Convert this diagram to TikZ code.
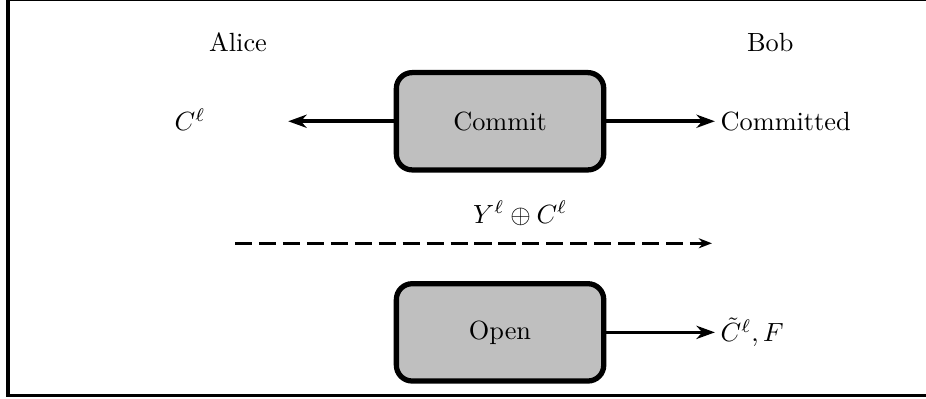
\documentclass[tikz,border=0pt]{standalone}
\usepackage{xcolor}
\usepackage{tikz}
\usetikzlibrary{arrows.meta, positioning, calc}

\begin{document}
\begin{tikzpicture}[
    phase/.style={draw, line width=2pt, fill=lightgray, minimum width=2.77cm, minimum height=1.3cm, rounded corners=6pt},
    relation/.style={-{Stealth[length=7pt, width=5pt, inset=2.2pt]}, line width=1.4pt},
    message/.style={-{Stealth[length=5pt, width=3.8pt, inset=1.6pt]}, line width=1pt, dash pattern=on 6.5pt off 2.6pt}
]
    \useasboundingbox (0,0) rectangle (12.37,-5.32);
    % Frame
    \draw[line width=1.3pt] (0.107,0.01) rectangle (12.45,-5.28);

    % Parties
    \node (alice) at (3.18,-0.57) {Alice};
    \node (bob) at (10.29,-0.57) {Bob};

    % Commit phase
    \node[phase] (commit) at (6.68,-1.62) {Commit};
    \node (cl) at (2.54,-1.6) {$C^\ell$};
    \coordinate (clend) at (3.85,-1.62);
    \node[right, inner sep=2pt] (committed) at (9.55,-1.62) {Committed};
    \draw[relation] (commit.west) -- (clend);
    \draw[relation] (commit.east) -- (committed.west);

    % Message
    \coordinate (msgstart) at (3.14,-3.25);
    \coordinate (msgend) at (9.51,-3.25);
    \node (msg) at (6.95,-2.85) {$Y^\ell \oplus C^\ell$};
    \draw[message] (msgstart) -- (msgend);

    % Open phase
    \node[phase] (open) at (6.68,-4.44) {Open};
    \node[right, inner sep=2pt] (result) at (9.55,-4.44) {$\tilde{C}^\ell, F$};
    \draw[relation] (open.east) -- (result.west);
\end{tikzpicture}
\end{document}
